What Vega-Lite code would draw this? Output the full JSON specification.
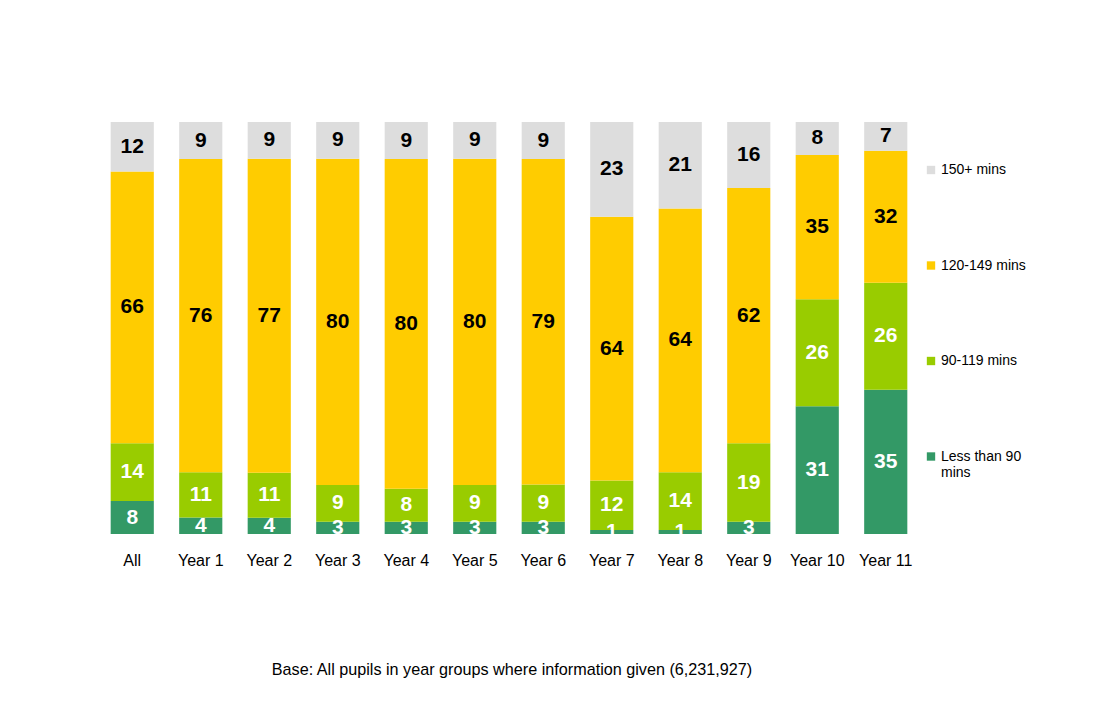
{
  "$schema": "https://vega.github.io/schema/vega-lite/v6.json",
  "width": 822,
  "height": 412,
  "padding": {"left": 98, "top": 122, "right": 5, "bottom": 5},
  "background": "white",
  "config": {
    "font": "Liberation Sans",
    "view": {"stroke": null}
  },
  "title": {
    "text": "Base: All pupils in year groups where information given (6,231,927)",
    "orient": "bottom",
    "anchor": "middle",
    "fontSize": 16.2,
    "fontWeight": "normal",
    "color": "#000000",
    "offset": 94,
    "dx": 3,
    "font": "Liberation Sans"
  },
  "data": {
    "values": [
      {"group": "All", "band": "Less than 90 mins", "o": 1, "value": 8},
      {"group": "All", "band": "90-119 mins", "o": 2, "value": 14},
      {"group": "All", "band": "120-149 mins", "o": 3, "value": 66},
      {"group": "All", "band": "150+ mins", "o": 4, "value": 12},
      {"group": "Year 1", "band": "Less than 90 mins", "o": 1, "value": 4},
      {"group": "Year 1", "band": "90-119 mins", "o": 2, "value": 11},
      {"group": "Year 1", "band": "120-149 mins", "o": 3, "value": 76},
      {"group": "Year 1", "band": "150+ mins", "o": 4, "value": 9},
      {"group": "Year 2", "band": "Less than 90 mins", "o": 1, "value": 4},
      {"group": "Year 2", "band": "90-119 mins", "o": 2, "value": 11},
      {"group": "Year 2", "band": "120-149 mins", "o": 3, "value": 77},
      {"group": "Year 2", "band": "150+ mins", "o": 4, "value": 9},
      {"group": "Year 3", "band": "Less than 90 mins", "o": 1, "value": 3},
      {"group": "Year 3", "band": "90-119 mins", "o": 2, "value": 9},
      {"group": "Year 3", "band": "120-149 mins", "o": 3, "value": 80},
      {"group": "Year 3", "band": "150+ mins", "o": 4, "value": 9},
      {"group": "Year 4", "band": "Less than 90 mins", "o": 1, "value": 3},
      {"group": "Year 4", "band": "90-119 mins", "o": 2, "value": 8},
      {"group": "Year 4", "band": "120-149 mins", "o": 3, "value": 80},
      {"group": "Year 4", "band": "150+ mins", "o": 4, "value": 9},
      {"group": "Year 5", "band": "Less than 90 mins", "o": 1, "value": 3},
      {"group": "Year 5", "band": "90-119 mins", "o": 2, "value": 9},
      {"group": "Year 5", "band": "120-149 mins", "o": 3, "value": 80},
      {"group": "Year 5", "band": "150+ mins", "o": 4, "value": 9},
      {"group": "Year 6", "band": "Less than 90 mins", "o": 1, "value": 3},
      {"group": "Year 6", "band": "90-119 mins", "o": 2, "value": 9},
      {"group": "Year 6", "band": "120-149 mins", "o": 3, "value": 79},
      {"group": "Year 6", "band": "150+ mins", "o": 4, "value": 9},
      {"group": "Year 7", "band": "Less than 90 mins", "o": 1, "value": 1},
      {"group": "Year 7", "band": "90-119 mins", "o": 2, "value": 12},
      {"group": "Year 7", "band": "120-149 mins", "o": 3, "value": 64},
      {"group": "Year 7", "band": "150+ mins", "o": 4, "value": 23},
      {"group": "Year 8", "band": "Less than 90 mins", "o": 1, "value": 1},
      {"group": "Year 8", "band": "90-119 mins", "o": 2, "value": 14},
      {"group": "Year 8", "band": "120-149 mins", "o": 3, "value": 64},
      {"group": "Year 8", "band": "150+ mins", "o": 4, "value": 21},
      {"group": "Year 9", "band": "Less than 90 mins", "o": 1, "value": 3},
      {"group": "Year 9", "band": "90-119 mins", "o": 2, "value": 19},
      {"group": "Year 9", "band": "120-149 mins", "o": 3, "value": 62},
      {"group": "Year 9", "band": "150+ mins", "o": 4, "value": 16},
      {"group": "Year 10", "band": "Less than 90 mins", "o": 1, "value": 31},
      {"group": "Year 10", "band": "90-119 mins", "o": 2, "value": 26},
      {"group": "Year 10", "band": "120-149 mins", "o": 3, "value": 35},
      {"group": "Year 10", "band": "150+ mins", "o": 4, "value": 8},
      {"group": "Year 11", "band": "Less than 90 mins", "o": 1, "value": 35},
      {"group": "Year 11", "band": "90-119 mins", "o": 2, "value": 26},
      {"group": "Year 11", "band": "120-149 mins", "o": 3, "value": 32},
      {"group": "Year 11", "band": "150+ mins", "o": 4, "value": 7}
    ]
  },
  "encoding": {
    "x": {
      "field": "group",
      "type": "nominal",
      "sort": null,
      "scale": {"paddingInner": 0.37, "paddingOuter": 0.185},
      "axis": {
        "title": null,
        "labelAngle": 0,
        "labelFontSize": 16,
        "labelColor": "#000000",
        "labelPadding": 18,
        "ticks": false,
        "domain": false
      }
    },
    "y": {
      "field": "value",
      "type": "quantitative",
      "stack": "normalize",
      "axis": null
    },
    "order": {"field": "o", "type": "quantitative"}
  },
  "layer": [
    {
      "mark": {"type": "bar"},
      "encoding": {
        "color": {
          "field": "band",
          "type": "nominal",
          "scale": {
            "domain": ["150+ mins", "120-149 mins", "90-119 mins", "Less than 90 mins"],
            "range": ["#DDDDDD", "#FFCC00", "#99CC00", "#339966"]
          },
          "legend": {
            "title": null,
            "orient": "none",
            "legendX": 826,
            "legendY": 41,
            "direction": "vertical",
            "symbolType": "square",
            "symbolSize": 70,
            "symbolStrokeWidth": 0,
            "labelFontSize": 14,
            "labelColor": "#000000",
            "labelOffset": 3,
            "labelLimit": 200,
            "labelBaseline": "middle",
            "rowPadding": 81.5,
            "padding": 0,
            "labelExpr": "datum.label == 'Less than 90 mins' ? ['Less than 90', 'mins'] : datum.label"
          }
        }
      }
    },
    {
      "mark": {"type": "text", "fontSize": 21, "fontWeight": "bold", "clip": true, "baseline": "middle"},
      "encoding": {
        "y": {
          "field": "value",
          "type": "quantitative",
          "stack": "normalize",
          "bandPosition": 0.5
        },
        "detail": {"field": "band"},
        "text": {"field": "value", "type": "quantitative"},
        "color": {
          "condition": {"test": "datum.o <= 2", "value": "#FFFFFF"},
          "value": "#000000"
        }
      }
    }
  ]
}
